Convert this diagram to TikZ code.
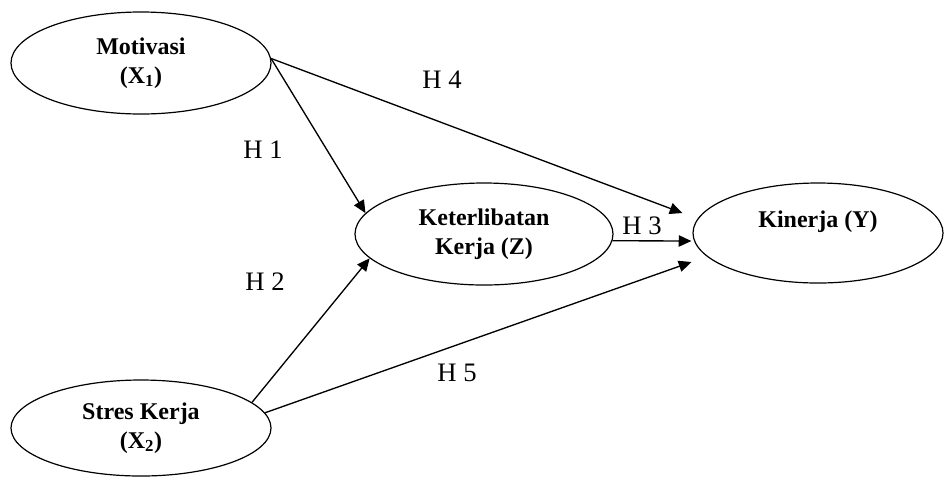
\documentclass[tikz,border=0pt]{standalone}
\usepackage{fontspec}
\setmainfont{Liberation Serif}
\usetikzlibrary{shapes.geometric,arrows.meta}
\begin{document}
\begin{tikzpicture}[x=0.75pt,y=-0.75pt,
  oval/.style={draw, ellipse, line width=0.9pt, inner sep=0pt, align=center,
    font=\fontsize{18}{21.5}\selectfont\bfseries},
  hlabel/.style={font=\fontsize{20}{24}\selectfont, inner sep=0pt},
  conn/.style={line width=1pt, -{Triangle[length=9.5pt,width=8.5pt]}}]
\useasboundingbox (0,0) rectangle (944,480);
\node[oval, minimum width=195pt, minimum height=76.5pt] (mot) at (141,63) {Motivasi\\(X\textsubscript{1})};
\node[oval, minimum width=195pt, minimum height=72pt] (st) at (141,428) {Stres Kerja\\(X\textsubscript{2})};
\node[oval, minimum width=193.5pt, minimum height=76.5pt] (ket) at (484,234) {Keterlibatan\\Kerja (Z)};
\node[oval, minimum width=187.5pt, minimum height=75pt] (kin) at (818,233) {};
\node[font=\fontsize{18}{21.5}\selectfont\bfseries, inner sep=0pt] (kintext) at (818,222) {Kinerja (Y)};
\draw[conn] (mot.2) -- (ket.170);
\draw[conn] (mot.2) -- ([xshift=-7.5pt,yshift=15pt]kin.west);
\draw[conn] (ket.-3) -- ([xshift=-0.75pt,yshift=-6pt]kin.west);
\draw[conn] (st.13) -- (ket.192);
\draw[conn] (st.7) -- ([xshift=-0.75pt,yshift=-21.75pt]kin.west);
\node[hlabel] (h4) at (442,80) {H 4};
\node[hlabel] (h1) at (263,150) {H 1};
\node[hlabel] (h3) at (642,226) {H 3};
\node[hlabel] (h2) at (265,282) {H 2};
\node[hlabel] (h5) at (457,373) {H 5};
\end{tikzpicture}
\end{document}
